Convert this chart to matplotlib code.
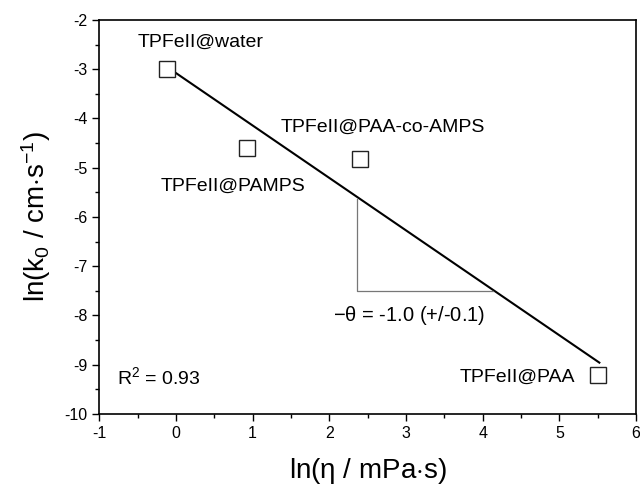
import matplotlib
matplotlib.use('Agg')
import matplotlib.pyplot as plt
import numpy as np

plt.rcParams['font.family'] = ['Liberation Sans', 'DejaVu Sans']
plt.rcParams['mathtext.fontset'] = 'custom'
plt.rcParams['mathtext.rm'] = 'Liberation Sans'
plt.rcParams['mathtext.it'] = 'Liberation Sans'
plt.rcParams['axes.unicode_minus'] = False

# data
names = ['TPFeII@water', 'TPFeII@PAMPS', 'TPFeII@PAA-co-AMPS', 'TPFeII@PAA']
ln_eta = [-0.12, 0.93, 2.40, 5.50]
ln_k0 = [-3.00, -4.61, -4.82, -9.21]

# fit line ends
fit_x = [-0.1, 5.52]
fit_y = [-2.97, -8.96]

# slope triangle
tri_x = [2.36, 2.36, 4.13]
tri_y = [-5.64, -7.5, -7.5]

fig = plt.figure(figsize=(6.4, 4.88), dpi=100)
ax = fig.add_axes([0.155, 0.152, 0.839, 0.807])

ax.plot(fit_x, fit_y, color='black', lw=1.5)
ax.plot(tri_x, tri_y, color='#777777', lw=0.9)
ax.plot(ln_eta, ln_k0, linestyle='none', marker='s', ms=11, mfc='white',
        mec='#222222', mew=1.0)

# labels
fs = 14
ax.text(-0.50, -2.46, names[0], fontsize=fs, va='center', ha='left')
ax.text(-0.20, -5.38, names[1], fontsize=fs, va='center', ha='left')
ax.text(1.37, -4.17, names[2], fontsize=fs, va='center', ha='left')
ax.text(5.21, -9.25, names[3], fontsize=fs, va='center', ha='right')
ax.text(2.05, -8.0, r'$-\theta$ = -1.0 (+/-0.1)', fontsize=14.5, va='center', ha='left')
ax.text(-0.77, -9.25, r'R$^2$ = 0.93', fontsize=fs, va='center', ha='left')

ax.set_xlim(-1, 6)
ax.set_ylim(-10, -2)
ax.set_xticks(np.arange(-1, 7, 1))
ax.set_yticks(np.arange(-10, -1, 1))
ax.set_xticks(np.arange(-0.5, 6, 1), minor=True)
ax.set_yticks(np.arange(-9.5, -2, 1), minor=True)
ax.tick_params(which='major', direction='out', length=5, width=1, labelsize=11.5)
ax.tick_params(which='minor', direction='out', length=3, width=1)
for s in ax.spines.values():
    s.set_linewidth(1.2)

ax.set_xlabel(r'ln($\eta$ / mPa$\cdot$s)', fontsize=20, labelpad=11)
ax.set_ylabel(r'ln(k$_0$ / cm$\cdot$s$^{-1}$)', fontsize=20, labelpad=8)

fig.savefig('out.png', dpi=100)
